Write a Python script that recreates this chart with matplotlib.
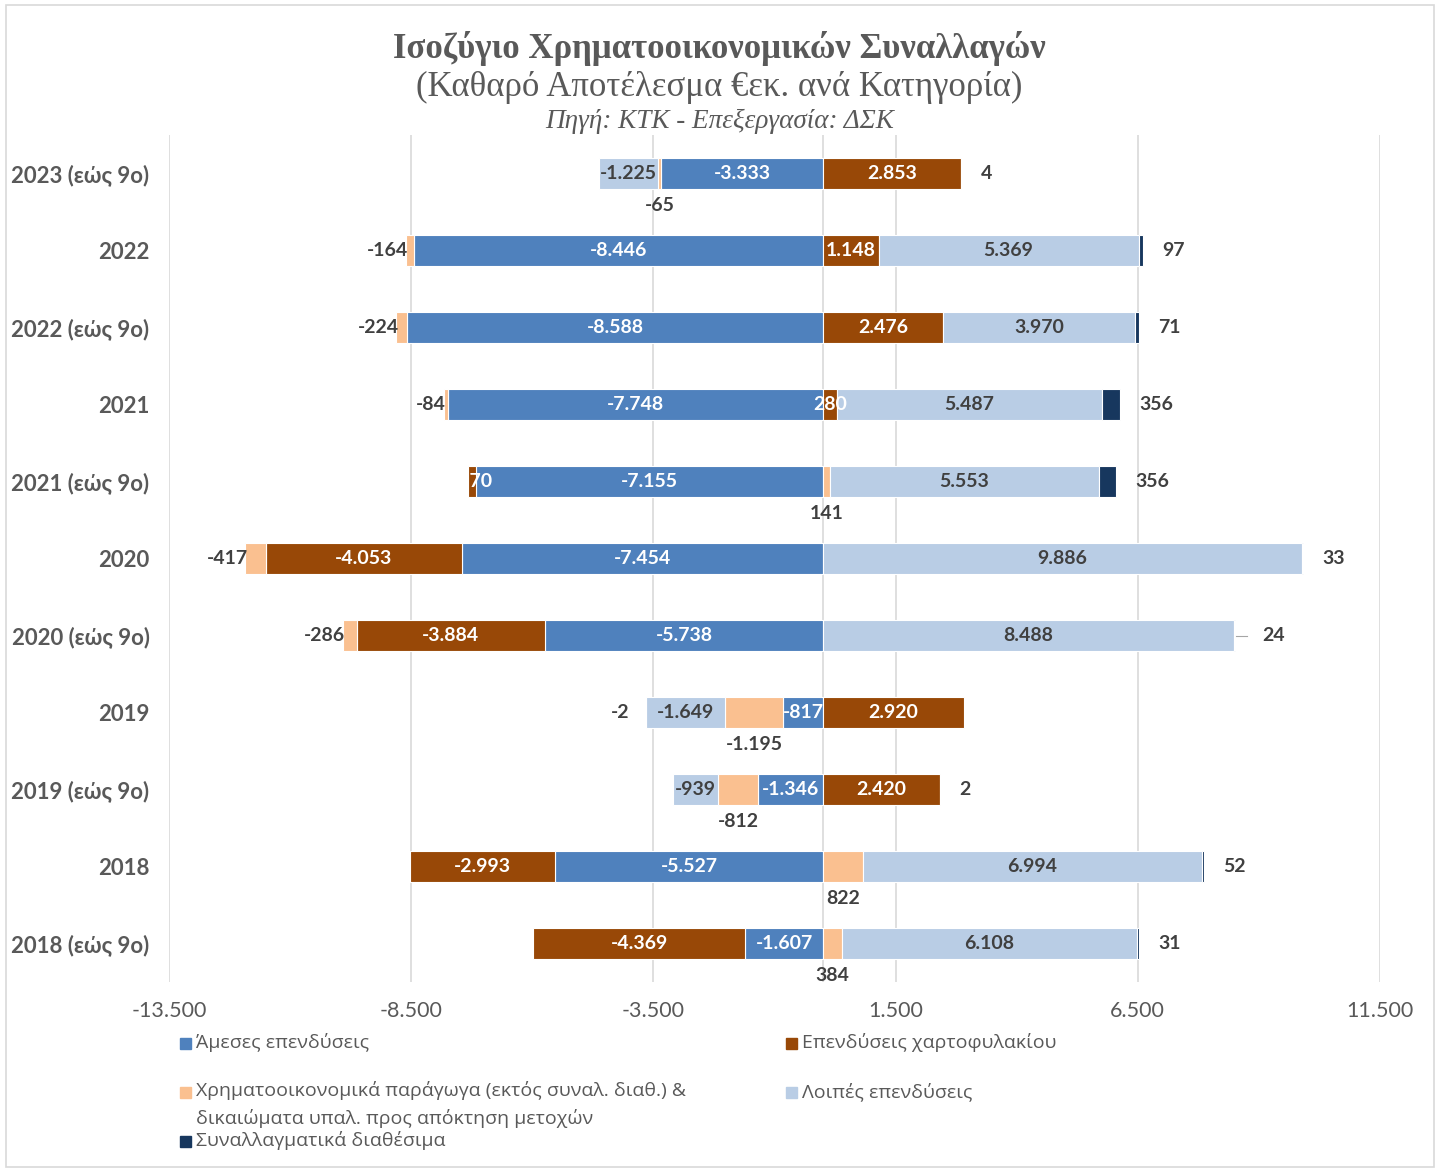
import matplotlib
matplotlib.use("Agg")
import matplotlib.pyplot as plt
from matplotlib.patches import Rectangle, FancyBboxPatch
import numpy as np

categories = ["2023 (εώς 9ο)", "2022", "2022 (εώς 9ο)", "2021", "2021 (εώς 9ο)",
              "2020", "2020 (εώς 9ο)", "2019", "2019 (εώς 9ο)", "2018", "2018 (εώς 9ο)"]
series_names = ["Άμεσες επενδύσεις", "Επενδύσεις χαρτοφυλακίου",
                "Χρηματοοικονομικά παράγωγα (εκτός συναλ. διαθ.) &\nδικαιώματα υπαλ. προς απόκτηση μετοχών",
                "Λοιπές επενδύσεις", "Συναλλαγματικά διαθέσιμα"]
direct = [-3333, -8446, -8588, -7748, -7155, -7454, -5738, -817, -1346, -5527, -1607]
portfolio = [2853, 1148, 2476, 280, -170, -4053, -3884, 2920, 2420, -2993, -4369]
derivatives = [-65, -164, -224, -84, 141, -417, -286, -1195, -812, 822, 384]
other = [-1225, 5369, 3970, 5487, 5553, 9886, 8488, -1649, -939, 6994, 6108]
reserves = [4, 97, 71, 356, 356, 33, 24, -2, 2, 52, 31]
xticks = [-13500, -8500, -3500, 1500, 6500, 11500]

colors = ["#4F81BD", "#984807", "#FAC090", "#B9CDE5", "#17375E"]
data = [direct, portfolio, derivatives, other, reserves]

W, H = 1439, 1171
fig = plt.figure(figsize=(W / 100, H / 100), dpi=100)
ax = fig.add_axes([169 / W, 1 - 982 / H, (1380 - 169) / W, (982 - 135) / H])

lab_font = "Lato"
grey = "#595959"
dark = "#404040"

y = np.arange(len(categories))
pos_cum = np.zeros(len(categories))
neg_cum = np.zeros(len(categories))
lefts = []
for s, vals in enumerate(data):
    vals = np.array(vals, dtype=float)
    left = np.where(vals >= 0, pos_cum, neg_cum)
    ax.barh(y, vals, left=left, height=0.39, color=colors[s], edgecolor="white",
            linewidth=0.8, zorder=3)
    lefts.append(left.copy())
    pos_cum += np.where(vals >= 0, vals, 0)
    neg_cum += np.where(vals < 0, vals, 0)


def fmt(v):
    return f"{v:,}".replace(",", ".")


kw = dict(fontsize=14, fontweight="bold", family=lab_font, va="center", zorder=5)
for i in range(len(categories)):
    for s, vals in enumerate(data):
        v = vals[i]
        l = lefts[s][i]
        c = l + v / 2
        end = l + v
        if s in (0, 1):
            ax.text(c, i, fmt(v), color="white", ha="center", **kw)
        elif s == 3:
            ax.text(c, i, fmt(v), color=dark, ha="center", **kw)
        elif s == 2:
            if v < 0 and other[i] >= 0:
                ax.text(end + 50, i, fmt(v), color=dark, ha="right", **kw)
            else:
                ax.text(c, i + 0.42, fmt(v), color=dark, ha="center", **kw)
        else:
            if v >= 0:
                off = 400
                if categories[i] == "2020 (εώς 9ο)":
                    ax.plot([end + 20, end + 250], [i, i], color="#A6A6A6", lw=0.8, zorder=4)
                    off = 550
                ax.text(end + off, i, fmt(v), color=dark, ha="left", **kw)
            else:
                ax.text(end - 330, i, fmt(v), color=dark, ha="right", **kw)

ax.set_xlim(-13500, 11500)
ax.set_ylim(len(categories) - 0.5, -0.5)
ax.set_xticks(xticks)
ax.set_xticklabels([fmt(t) for t in xticks], fontsize=15.5, color=grey, family=lab_font)
ax.set_yticks(y)
ax.set_yticklabels(categories, fontsize=16, fontweight="bold", color=grey, family=lab_font)
ax.tick_params(axis="both", length=0)
ax.tick_params(axis="x", pad=14)
ax.tick_params(axis="y", pad=14)
ax.grid(axis="x", color="#D9D9D9", lw=1.2, zorder=0)
ax.axvline(0, color="#D9D9D9", lw=1.2, zorder=1)
for sp in ax.spines.values():
    sp.set_visible(False)

# Titles
fig.text(0.5, 1 - 48 / H, "Ισοζύγιο Χρηματοοικονομικών Συναλλαγών", ha="center", va="center",
         fontsize=25, fontweight="bold", family="Liberation Serif", color=grey)
fig.text(0.5, 1 - 87 / H, "(Καθαρό Αποτέλεσμα €εκ. ανά Κατηγορία)", ha="center", va="center",
         fontsize=25, family="Liberation Serif", color=grey)
fig.text(0.5, 1 - 121 / H, "Πηγή: ΚΤΚ - Επεξεργασία: ΔΣΚ", ha="center", va="center",
         fontsize=19.5, style="italic", family="Liberation Serif", color=grey)

# Legend (manual)
leg_font = ["Liberation Sans Narrow", "Open Sans"]
leg_pos = [(180, 1043), (786, 1043), (180, 1092), (786, 1092), (180, 1141)]
for s, (px, py) in enumerate(leg_pos):
    fig.patches.append(Rectangle((px / W, 1 - (py + 6) / H), 11 / W, 11 / H,
                                 transform=fig.transFigure, color=colors[s]))
    two = "\n" in series_names[s]
    fig.text((px + 16) / W, 1 - (py - 11) / H if two else 1 - py / H, series_names[s],
             ha="left", va="top" if two else "center",
             fontsize=14, family=leg_font, color=grey, linespacing=1.6)

# border
fig.patches.append(FancyBboxPatch((6 / W, 4 / H), 1428 / W, 1162 / H, boxstyle="square,pad=0",
                                  transform=fig.transFigure, fill=False, edgecolor="#D9D9D9", lw=1.2))

fig.savefig("out.png", dpi=100)
